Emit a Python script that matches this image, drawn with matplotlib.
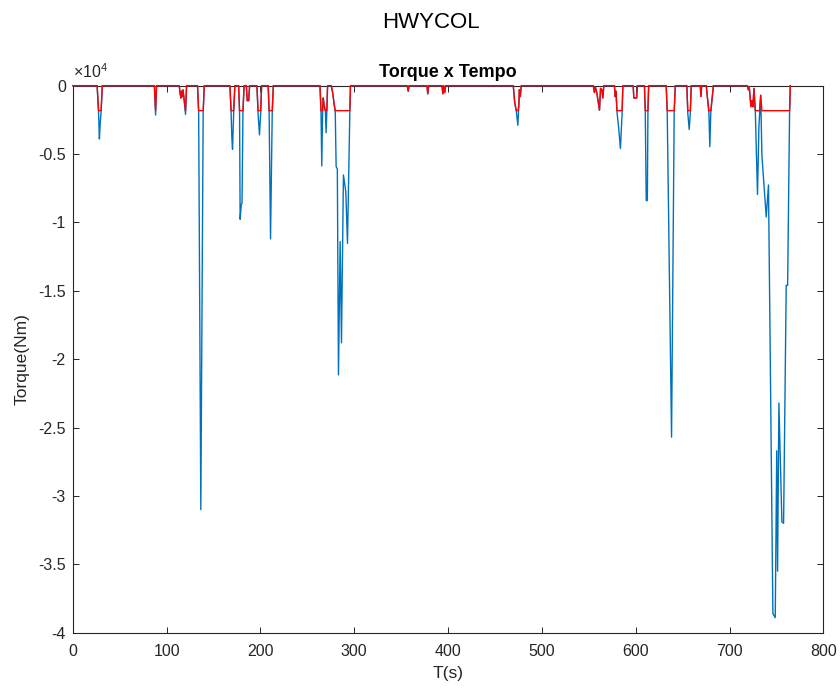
import matplotlib.pyplot as plt
import numpy as np

plt.rcParams['font.family'] = 'Liberation Sans'
plt.rcParams['mathtext.fontset'] = 'custom'
plt.rcParams['mathtext.rm'] = 'Liberation Sans'

# Torque no eixo ao longo do ciclo HWYCOL (pontos de quebra da curva)
tempo = [0,
         26, 27.5, 28.4, 29.3, 30.2, 31.5,
         87, 88.3, 89.3,
         113.5, 114.5, 115.3, 116, 116.8, 117.5, 118.5, 120.2, 121.3,
         133, 134.2, 136.5, 139, 140.2,
         167.5, 168.8, 169.5, 170.3, 171.5, 172.8,
         176.8, 177.8, 178.4, 179.6, 180.4, 181.4, 182.6,
         185, 186, 187.5, 188.5,
         196.3, 197.5, 199, 200.3, 201.3,
         208.3, 209.3, 210.8, 212.6, 213.8,
         263.5, 264.6, 265.4, 266.3, 267, 268, 269.3, 270, 270.8, 271.6,
         275.5, 277, 278.5, 279.8, 280.7, 282, 283.2, 285, 286.4, 288.5, 291, 292.8, 295.3, 296,
         356.5, 357.5, 358.5,
         377.5, 378.4, 379.3,
         393.5, 394.5, 395.3, 396.5, 397.5,
         469.5, 471, 472.8, 474.4, 475.4, 476, 477, 478,
         554.8, 556, 557, 558.5, 561.4, 562.5, 564, 565, 566,
         577.3, 578.2, 579, 580, 582, 583.7, 585.5, 586.3,
         597.3, 598, 601, 601.8,
         609.3, 610.2, 611.2, 612.4, 613, 613.8,
         632.5, 633.6, 638.2, 641, 642.2,
         654.5, 655.5, 657, 658.2, 659.2,
         668.8, 669.5, 670.3,
         675.2, 676.5, 678, 679, 680, 682.8,
         719, 720, 721, 722.8, 723.8, 724.9, 726, 727.5, 729.8, 731.3, 732, 733.2, 734.5,
         739.1, 741.5, 746.2, 748.7, 750.3, 751.2, 752.6, 755.8, 757.6, 760.4, 761.9, 764, 764.8]

torque = [0,
          0, -1950, -3900, -2700, -1950, 0,
          0, -2150, 0,
          0, -600, -900, -400, -800, -300, -900, -2100, 0,
          0, -2000, -31000, -2000, 0,
          0, -2000, -3700, -4650, -2000, 0,
          0, -2000, -9770, -8700, -8600, -2000, 0,
          0, -1100, -1100, 0,
          0, -2000, -3600, -2000, 0,
          0, -2000, -11200, -2000, 0,
          0, -1900, -5870, -1900, -900, -1500, -1900, -3440, -1900, 0,
          0, -500, -1300, -2000, -5900, -6100, -21150, -11400, -18800, -6530, -7750, -11530, -2000, 0,
          0, -400, 0,
          0, -600, 0,
          0, -600, 0, -500, 0,
          0, -1200, -1900, -2900, -1500, -300, -800, 0,
          0, -500, -100, -500, -1800, -200, -300, -900, 0,
          0, -800, -400, -1900, -3200, -4600, -2000, 0,
          0, -900, -900, 0,
          0, -2000, -8400, -8400, -2000, 0,
          0, -2000, -25700, -2000, 0,
          0, -2000, -3200, -2000, 0,
          0, -800, 0,
          0, -900, -2000, -4460, -2000, 0,
          0, -300, -100, -1540, -1100, -1540, -200, -1950, -7950, -3000, -2200, -700, -5100,
          -9600, -7260, -38600, -38900, -26700, -35500, -23200, -31900, -32000, -14600, -14600, -1950, 0]

# limite de torque aplicado (curva vermelha)
limite = -1830

yticks = [-40000, -35000, -30000, -25000, -20000, -15000, -10000, -5000, 0]
xticks = [0, 100, 200, 300, 400, 500, 600, 700, 800]

cinza = '#262626'

fig = plt.figure(figsize=(8.4, 6.92), dpi=100)
ax = fig.add_axes([0.0866, 0.0857, 0.8936, 0.7905])

ax.plot(tempo, torque, color='#0072BD', lw=1.0, zorder=3, clip_on=False)
ax.plot(tempo, np.maximum(torque, limite), color='#FF0000', lw=1.0, zorder=4, clip_on=False)

ax.set_xlim(0, 800)
ax.set_ylim(-40000, 0)
ax.set_xticks(xticks)
ax.set_yticks(yticks)
ax.set_yticklabels([f'{v / 1e4:g}' for v in yticks])

ax.tick_params(direction='in', top=True, right=True, length=4, width=0.7,
               colors=cinza, labelsize=11.5)
ax.tick_params(axis='x', pad=8)
ax.tick_params(axis='y', pad=5)
for s in ax.spines.values():
    s.set_color(cinza)
    s.set_linewidth(0.8)

ax.text(0.0, 1.008, r'$\times 10^{4}$', transform=ax.transAxes, ha='left',
        va='bottom', fontsize=11.5, color=cinza)

ax.set_xlabel('T(s)', fontsize=12.5, color=cinza, labelpad=5)
ax.set_ylabel('Torque(Nm)', fontsize=12.5, color=cinza, labelpad=6)
ax.set_title('Torque x Tempo', fontsize=13, fontweight='bold', pad=6)

fig.text(0.513, 0.959, 'HWYCOL', ha='center', va='baseline', fontsize=16)

fig.savefig('out.png', dpi=100)
